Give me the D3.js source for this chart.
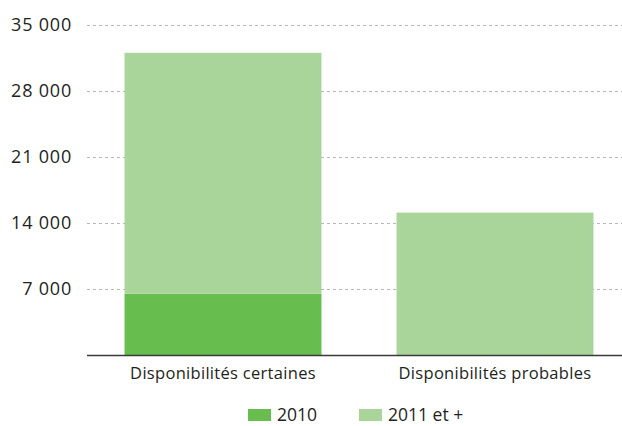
<!DOCTYPE html>
<html>
<head>
<meta charset="utf-8">
<script src="https://cdn.jsdelivr.net/npm/d3@7"></script>
<style>
  body { margin: 0; background: #fff; }
  text { font-family: "Open Sans", "Lato", sans-serif; fill: #231f20; }
</style>
</head>
<body>
<svg id="chart"></svg>
<script>
const categories = ["Disponibilités certaines", "Disponibilités probables"];
const seriesNames = ["2010", "2011 et +"];
const values2010 = [6500, 0];
const values2011 = [25550, 15100];
const tickValues = [7000, 14000, 21000, 28000, 35000];

const colors = ["#67bd4d", "#a9d49a"];

const width = 622, height = 426;
const margin = { left: 87, top: 25, bottom: 71 };

const svg = d3.select("#chart").attr("width", width).attr("height", height);

const rows = categories.map((c, i) => ({ cat: c, "2010": values2010[i], "2011 et +": values2011[i] }));
const stacked = d3.stack().keys(seriesNames)(rows);

const x = d3.scaleBand()
  .domain(categories)
  .range([margin.left, 631])
  .paddingInner(0.276)
  .paddingOuter(0.138);

const y = d3.scaleLinear()
  .domain([0, 35000])
  .range([height - margin.bottom, margin.top]);

// grid
svg.append("g")
  .selectAll("line")
  .data(tickValues)
  .enter()
  .append("line")
  .attr("x1", margin.left)
  .attr("x2", width)
  .attr("y1", d => y(d) + 0.5)
  .attr("y2", d => y(d) + 0.5)
  .attr("stroke", "#b8b8b8")
  .attr("stroke-dasharray", "3,3");

// y labels
const yAxis = d3.axisLeft(y)
  .tickValues(tickValues)
  .tickSize(0)
  .tickPadding(0)
  .tickFormat(d => d3.format(",")(d).replace(",", " "));

svg.append("g")
  .attr("transform", "translate(72,0)")
  .call(yAxis)
  .call(g => g.select(".domain").remove())
  .selectAll("text")
  .style("font-size", "18px")
  .style("letter-spacing", "0.8px")
  .attr("fill", "#231f20");

// bars
svg.append("g")
  .selectAll("g")
  .data(stacked)
  .enter()
  .append("g")
  .attr("fill", (d, i) => colors[i])
  .selectAll("rect")
  .data(d => d)
  .enter()
  .append("rect")
  .attr("x", d => x(d.data.cat))
  .attr("y", d => y(d[1]))
  .attr("width", x.bandwidth())
  .attr("height", d => y(d[0]) - y(d[1]));

// baseline + category labels
const xAxis = d3.axisBottom(x).tickSize(0).tickPadding(12);
svg.append("g")
  .attr("transform", `translate(0,${y(0)})`)
  .call(xAxis)
  .call(g => g.select(".domain").attr("d", `M${margin.left},0.5H${width}`).attr("stroke", "#3a3a3a").attr("stroke-width", 1.5))
  .selectAll("text")
  .style("font-size", "16.5px")
  .style("letter-spacing", "0.3px")
  .attr("fill", "#231f20");

// legend
const legendX = [248, 359];
const legend = svg.append("g")
  .selectAll("g")
  .data(seriesNames)
  .enter()
  .append("g")
  .attr("transform", (d, i) => `translate(${legendX[i]},409)`);

legend.append("rect")
  .attr("width", 23)
  .attr("height", 12)
  .attr("fill", (d, i) => colors[i]);

legend.append("text")
  .attr("x", 29)
  .attr("y", 6)
  .attr("dy", "0.35em")
  .style("font-size", "17.5px")
  .text(d => d);
</script>
</body>
</html>
